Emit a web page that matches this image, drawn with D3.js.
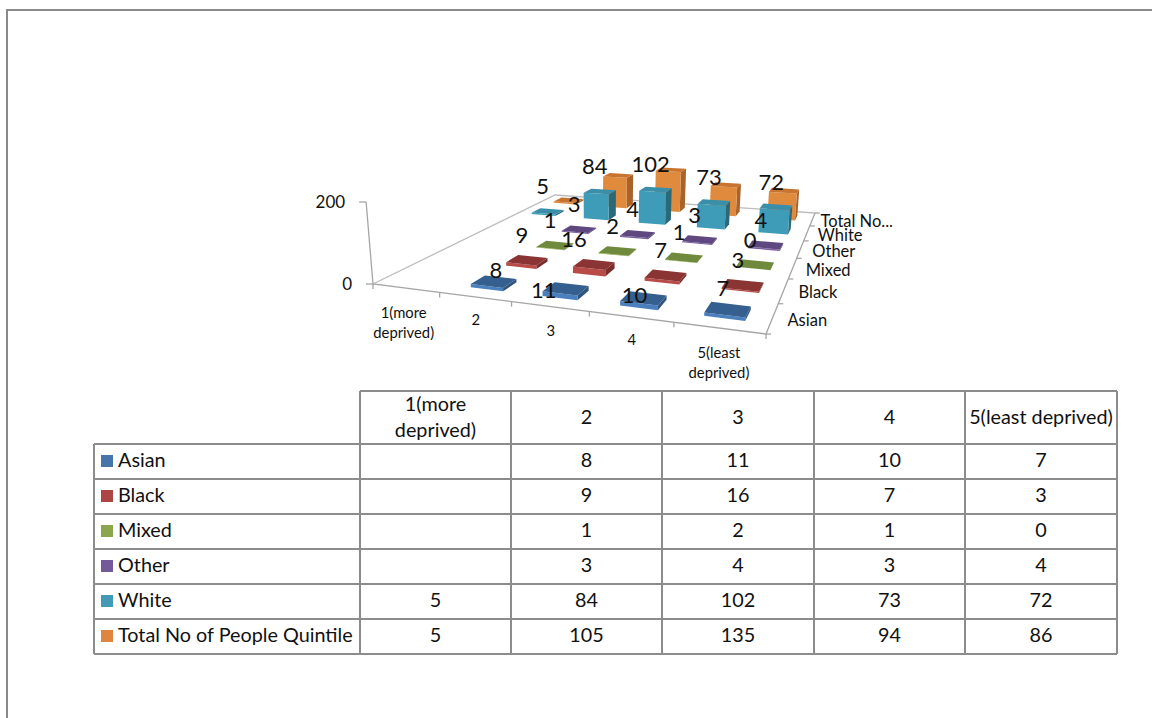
<!DOCTYPE html>
<html><head><meta charset="utf-8">
<style>html,body{margin:0;padding:0;background:#fff}svg{display:block}text{font-family:Lato,"Open Sans",sans-serif;fill:#111}</style>
<script src="https://cdn.jsdelivr.net/npm/d3@7"></script></head><body>
<svg id="c" width="1152" height="718"></svg>
<script>
const categories=["1(more deprived)","2","3","4","5(least deprived)"];
const seriesNames=["Asian","Black","Mixed","Other","White","Total No of People Quintile"];
const asian=[null,8,11,10,7];
const black=[null,9,16,7,3];
const mixed=[null,1,2,1,0];
const other=[null,3,4,3,4];
const white=[5,84,102,73,72];
const total=[5,105,135,94,86];
const valueTicks=[0,200];
const seriesAxisLabels=["Asian","Black","Mixed","Other","White","Total No..."];
const allValues=[asian,black,mixed,other,white,total];

// layout & style
const floor={fl:[373,284],fr:[766,334],br:[815,213],bl:[555,195]};
const colours=[
 {swatch:"#4575aa",front:"#4a7fbd",top:"#355f8e",side:"#2f5480"},
 {swatch:"#ab4644",front:"#b84a47",top:"#8a3533",side:"#7a2e2c"},
 {swatch:"#8ba64f",front:"#8fae50",top:"#6f8a3c",side:"#5f7733"},
 {swatch:"#735a99",front:"#7a5e9f",top:"#5f4780",side:"#513c6e"},
 {swatch:"#429ab5",front:"#3f9cb8",top:"#3a8ea8",side:"#2b6878"},
 {swatch:"#e08540",front:"#e08a3e",top:"#c8742f",side:"#a8622a"}];
const labelNudge={"0|1":[7,14],"0|2":[-17,26],"0|3":[-4,22],"0|4":[0,4],"1|2":[-15,0]};
const svg=d3.select("#c");

// page frame
svg.append("path").attr("d","M7,718V10H1152").attr("fill","none").attr("stroke","#8a8a8a").attr("stroke-width",2);

// perspective plane mapping, unit floor square -> picture
const [x0,y0]=floor.fl,[x1,y1]=floor.fr,[x2,y2]=floor.br,[x3,y3]=floor.bl;
const dx1=x1-x2,dx2=x3-x2,sx=x0-x1+x2-x3,dy1=y1-y2,dy2=y3-y2,sy=y0-y1+y2-y3;
const det=dx1*dy2-dx2*dy1,g=(sx*dy2-dx2*sy)/det,h=(dx1*sy-sx*dy1)/det;
const a=x1-x0+g*x1,b=x3-x0+h*x3,d=y1-y0+g*y1,e=y3-y0+h*y3;
const heightScale=d3.scaleLinear().domain([0,200]).range([0,82]);
function project(u,v,val=0){
  const w=g*u+h*v+1;
  const X=(a*u+b*v+x0)/w,Y=(d*u+e*v+y0)/w,H=heightScale(val)/w;
  return [X+(X-600)*0.00037*H,Y-H];
}
const uScale=d3.scaleBand().domain(d3.range(5)).range([0,1]);
const vScale=d3.scaleBand().domain(d3.range(6)).range([0,1]);
const cu=c=>uScale(c)+uScale.bandwidth()/2, cv=r=>vScale(r)+vScale.bandwidth()/2;
const hu=uScale.bandwidth()*0.23,hv=vScale.bandwidth()*0.19;

// walls/axes
const axis=svg.append("g").attr("fill","none").attr("stroke","#a6a6a6").attr("stroke-width",1.3);
const line=p=>"M"+p.map(q=>q.join(",")).join("L");
axis.append("path").attr("d",line([project(0,0),project(0,1),project(1,1)])).attr("stroke","#bdbdbd");
axis.append("path").attr("d",line([project(0,0,200),project(0,0),project(1,0),project(1,1)]));
valueTicks.forEach(t=>{const p=project(0,0,t);axis.append("path").attr("d",line([[p[0]-7,p[1]],p]));});
d3.range(6).forEach(i=>{const p=project(i/5,0);axis.append("path").attr("d",line([p,[p[0],p[1]+5]]));});
d3.range(7).forEach(i=>{const p=project(1,i/6);axis.append("path").attr("d",line([p,[p[0]+5,p[1]]]));});

// axis texts
valueTicks.forEach(t=>{const p=project(0,0,t);
 svg.append("text").attr("x",p[0]-21).attr("y",p[1]+6).attr("text-anchor","end").attr("font-size",17).text(t);});
const catLines=[["1(more","deprived)"],["2"],["3"],["4"],["5(least","deprived)"]];
const catOffset=[[-2,30],[1,28],[1,30],[1,28],[0,30]];
catLines.forEach((ls,c)=>{const p=project(cu(c),0);
 ls.forEach((s,i)=>svg.append("text").attr("x",p[0]+catOffset[c][0]).attr("y",p[1]+catOffset[c][1]+i*19.5).attr("text-anchor","middle").attr("font-size",14.8).text(s));});
const seriesDx=[15,15,13,12,11,8];
seriesAxisLabels.forEach((s,r)=>{const p=project(1,cv(r));
 svg.append("text").attr("x",p[0]+seriesDx[r]).attr("y",p[1]+7.5).attr("font-size",16.5).text(s);});

// bars, back row first
const cells=[];
d3.range(5,-1,-1).forEach(r=>d3.range(5).forEach(c=>{if(allValues[r][c]!==null)cells.push({r,c,v:allValues[r][c]});}));
const bars=svg.append("g");
cells.forEach(k=>{
 const u=cu(k.c),v=cv(k.r),s=colours[k.r];
 const P=(du,dv,val)=>project(u+du*hu,v+dv*hv,val);
 const G=bars.append("g");
 G.append("path").attr("fill",s.side).attr("d",line([P(1,-1,0),P(1,1,0),P(1,1,k.v),P(1,-1,k.v)])+"Z");
 G.append("path").attr("fill",s.front).attr("d",line([P(-1,-1,0),P(1,-1,0),P(1,-1,k.v),P(-1,-1,k.v)])+"Z");
 G.append("path").attr("fill",s.top).attr("d",line([P(-1,-1,k.v),P(1,-1,k.v),P(1,1,k.v),P(-1,1,k.v)])+"Z");
});
// data labels (Excel shows none for the last series)
cells.filter(k=>k.r<5).forEach(k=>{
 const p=project(cu(k.c),cv(k.r),k.v),n=labelNudge[k.r+"|"+k.c]||[0,0];
 svg.append("text").attr("x",p[0]-5+n[0]).attr("y",p[1]-25+n[1]+8).attr("text-anchor","middle").attr("font-size",22).text(k.v);
});

// data table
const colX=[360,511,662,814,965,1117],rowY=[391,444,479,514,549,584,619,654],tableLeft=94;
const T=svg.append("g");
const gridLine=(x1,y1,x2,y2)=>T.append("line").attr("x1",x1).attr("y1",y1).attr("x2",x2).attr("y2",y2).attr("stroke","#8c8c8c").attr("stroke-width",2);
rowY.forEach((y,i)=>gridLine(i===0?colX[0]:tableLeft,y,colX[5],y));
colX.forEach(x=>gridLine(x,rowY[0],x,rowY[7]));
gridLine(tableLeft,rowY[1],tableLeft,rowY[7]);
const fs=19.8;
const cellText=(x,y,s,anchor="middle")=>T.append("text").attr("x",x).attr("y",y).attr("text-anchor",anchor).attr("font-size",fs).text(s);
[["1(more","deprived)"],["2"],["3"],["4"],["5(least deprived)"]].forEach((ls,c)=>{
 const cx=(colX[c]+colX[c+1])/2;
 if(ls.length>1){cellText(cx,411,ls[0]);cellText(cx,437,ls[1]);} else cellText(cx,424,ls[0]);
});
seriesNames.forEach((s,r)=>{
 const y=rowY[r+1];
 T.append("rect").attr("x",101).attr("y",y+11).attr("width",12).attr("height",12).attr("fill",colours[r].swatch);
 cellText(118,y+23,s,"start");
 allValues[r].forEach((v,c)=>{if(v!==null)cellText((colX[c]+colX[c+1])/2,y+23,v);});
});
</script></body></html>
